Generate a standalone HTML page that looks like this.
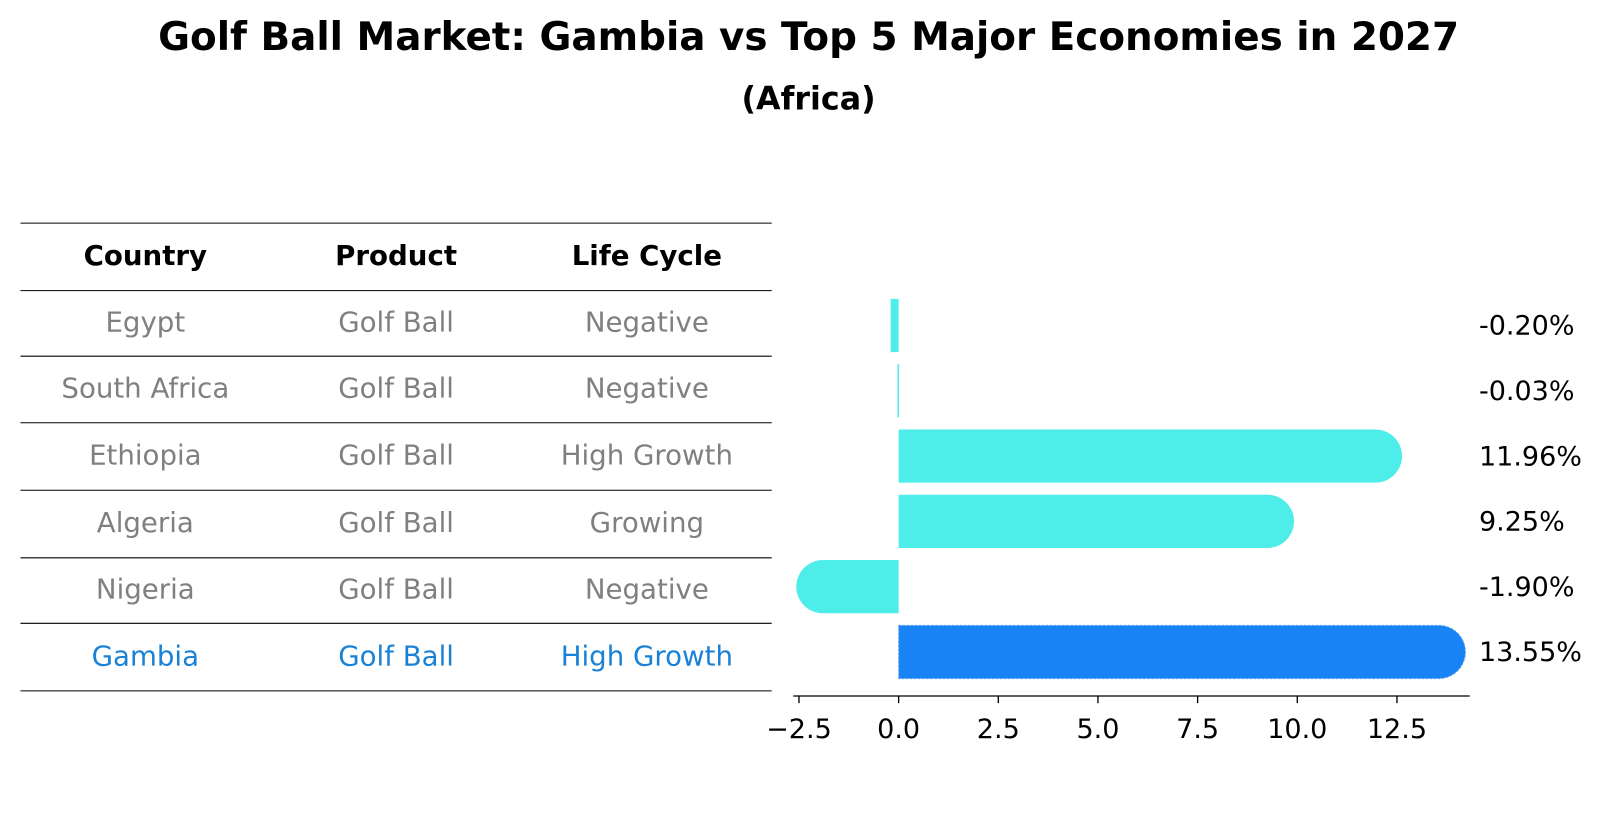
<!DOCTYPE html>
<html><head><meta charset="utf-8"><style>
body{margin:0;background:#fff;width:1604px;height:823px;overflow:hidden;font-family:"DejaVu Sans","Liberation Sans",sans-serif}
</style></head><body>
<svg id="c" width="1604" height="823" xmlns="http://www.w3.org/2000/svg" font-family="DejaVu Sans, Liberation Sans, sans-serif">
<g transform="scale(1.0235)">
<text x="790" y="49" text-anchor="middle" font-size="38" font-weight="bold">Golf Ball Market: Gambia vs Top 5 Major Economies in 2027</text>
<text x="790" y="107" text-anchor="middle" font-size="31" font-weight="bold">(Africa)</text>
<g id="table"></g>
<g id="bars"></g>
</g>
</svg>
<script>
const countries=["Egypt","South Africa","Ethiopia","Algeria","Nigeria","Gambia"];
const products=["Golf Ball","Golf Ball","Golf Ball","Golf Ball","Golf Ball","Golf Ball"];
const lifeCycles=["Negative","Negative","High Growth","Growing","Negative","High Growth"];
const values=[-0.20,-0.03,11.96,9.25,-1.90,13.55];
const valueLabels=["-0.20%","-0.03%","11.96%","9.25%","-1.90%","13.55%"];
const ticks=[-2.5,0,2.5,5,7.5,10,12.5];
const tickLabels=["\u22122.5","0.0","2.5","5.0","7.5","10.0","12.5"];

const NS="http://www.w3.org/2000/svg";
function mk(parent,tag,attrs,text){const e=document.createElementNS(NS,tag);for(const k in attrs)e.setAttribute(k,attrs[k]);if(text!=null)e.textContent=text;parent.appendChild(e);return e;}
const tbl=document.getElementById('table');
const lines=[218,284,348,413,479,545,609,675];
lines.forEach(y=>{const l=mk(tbl,'line',{x1:20,x2:754,y1:y,y2:y,stroke:'#000','stroke-width':1});

});
const colX=[142,387,632];
["Country","Product","Life Cycle"].forEach((h,i)=>{const t=mk(tbl,'text',{x:colX[i],y:259,'text-anchor':'middle','font-size':27,'font-weight':'bold'},h);

});
countries.forEach((c,r)=>{const y=(lines[r+1]+lines[r+2])/2+8;const col=r===countries.length-1?'#1a82d6':'#808080';
[c,products[r],lifeCycles[r]].forEach((v,i)=>{const t=mk(tbl,'text',{x:colX[i],y:y,'text-anchor':'middle','font-size':27,fill:col},v);

});});

const g=document.getElementById('bars');
const x0=878,ppu=38.95;
const X=v=>x0+v*ppu;
const rowY=i=>318+i*63.8;
const h=52,r=26;
values.forEach((v,i)=>{
 const last=i===values.length-1;const col=last?'#1783f5':'#4deeea';
 const cy=rowY(i);const xa=Math.min(X(0),X(v)),w=Math.abs(X(v)-X(0));
 let d;
 if(w<12){d=`M${xa},${cy-h/2}h${Math.max(w,1.5)}v${h}h${-Math.max(w,1.5)}z`;}
 else if(v>=0){d=`M${X(0)},${cy-h/2}H${X(v)}A${r},${r} 0 0 1 ${X(v)},${cy+h/2}H${X(0)}Z`;}
 else{d=`M${X(0)},${cy-h/2}H${X(v)}A${r},${r} 0 0 0 ${X(v)},${cy+h/2}H${X(0)}Z`;}
 const p=mk(g,'path',{d:d,fill:col});
 if(last){p.setAttribute('stroke','#5aa0e0');p.setAttribute('stroke-dasharray','2,2');}
 
 
 const t=mk(g,'text',{x:1445,y:cy+9,'font-size':26.4},valueLabels[i]);
 
 
});
const ax=mk(g,'line',{x1:775,x2:1436,y1:680,y2:680,stroke:'#000','stroke-width':1.3});


ticks.forEach((t,i)=>{const l=mk(g,'line',{x1:X(t),x2:X(t),y1:680,y2:687,stroke:'#000','stroke-width':1.3});


const tx=mk(g,'text',{x:X(t),y:721,'text-anchor':'middle','font-size':26.4},tickLabels[i]);

});
</script>
</body></html>
